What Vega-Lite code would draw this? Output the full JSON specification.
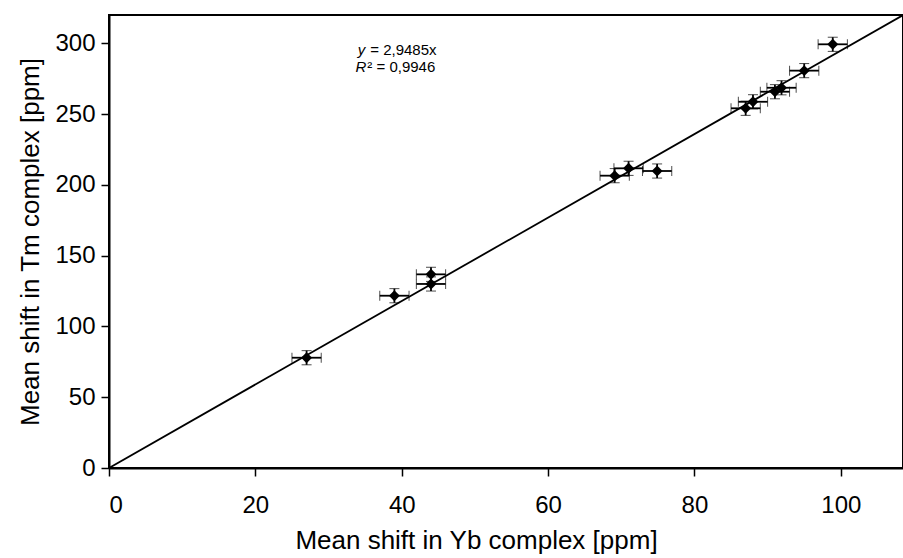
{
  "$schema": "https://vega.github.io/schema/vega-lite/v6.json",
  "width": 794,
  "height": 453,
  "autosize": {"type": "none"},
  "padding": {"left": 109, "top": 15, "right": 0, "bottom": 90},
  "background": "white",
  "config": {
    "font": "Liberation Sans",
    "view": {"stroke": "black", "strokeWidth": 2},
    "axis": {
      "grid": false,
      "domainColor": "black",
      "domainWidth": 2,
      "tickColor": "black",
      "tickWidth": 1.5,
      "tickSize": 8,
      "labelColor": "black",
      "titleColor": "black",
      "labelFont": "Liberation Sans",
      "titleFont": "Liberation Sans",
      "labelFontSize": 24,
      "titleFontSize": 26,
      "titleFontWeight": "normal"
    }
  },
  "datasets": {
    "points": [
      {"x": 27.0, "y": 77.9, "xerr": 2, "yerr": 5},
      {"x": 39.0, "y": 121.7, "xerr": 2, "yerr": 5},
      {"x": 44.0, "y": 136.8, "xerr": 2, "yerr": 5},
      {"x": 44.0, "y": 130.0, "xerr": 2, "yerr": 5},
      {"x": 69.1, "y": 206.5, "xerr": 2, "yerr": 5},
      {"x": 71.0, "y": 211.7, "xerr": 2, "yerr": 5},
      {"x": 74.9, "y": 209.8, "xerr": 2, "yerr": 5},
      {"x": 87.0, "y": 254.1, "xerr": 2, "yerr": 5},
      {"x": 88.0, "y": 258.7, "xerr": 2, "yerr": 5},
      {"x": 91.0, "y": 265.8, "xerr": 2, "yerr": 5},
      {"x": 91.9, "y": 268.6, "xerr": 2, "yerr": 5},
      {"x": 95.0, "y": 280.7, "xerr": 2, "yerr": 5},
      {"x": 98.9, "y": 299.3, "xerr": 2, "yerr": 5}
    ],
    "fit": [
      {"x": 0, "y": 0},
      {"x": 108.53, "y": 320}
    ]
  },
  "layer": [
    {
      "data": {"name": "fit"},
      "mark": {"type": "line", "color": "black", "strokeWidth": 1.8, "clip": true},
      "encoding": {
        "x": {"field": "x", "type": "quantitative", "scale": {"domain": [0, 108.5], "nice": false, "zero": true},
              "axis": {"values": [0, 20, 40, 60, 80, 100], "title": "Mean shift in Yb complex [ppm]", "labelPadding": 17, "titlePadding": 10, "titleX": 367}},
        "y": {"field": "y", "type": "quantitative", "scale": {"domain": [0, 320], "nice": false},
              "axis": {"values": [0, 50, 100, 150, 200, 250, 300], "title": "Mean shift in Tm complex [ppm]", "labelPadding": 6, "titlePadding": 11}}
      }
    },
    {
      "data": {"name": "points"},
      "mark": {"type": "errorbar", "ticks": {"size": 10, "color": "black", "strokeWidth": 1.8}, "rule": {"color": "black", "strokeWidth": 1.8}},
      "encoding": {
        "x": {"field": "x", "type": "quantitative", "title": "Mean shift in Yb complex [ppm]"},
        "xError": {"field": "xerr"},
        "y": {"field": "y", "type": "quantitative", "title": "Mean shift in Tm complex [ppm]"}
      }
    },
    {
      "data": {"name": "points"},
      "mark": {"type": "errorbar", "ticks": {"size": 10, "color": "black", "strokeWidth": 1.8}, "rule": {"color": "black", "strokeWidth": 1.8}},
      "encoding": {
        "y": {"field": "y", "type": "quantitative", "title": "Mean shift in Tm complex [ppm]"},
        "yError": {"field": "yerr"},
        "x": {"field": "x", "type": "quantitative", "title": "Mean shift in Yb complex [ppm]"}
      }
    },
    {
      "data": {"name": "points"},
      "mark": {"type": "point", "shape": "diamond", "filled": true, "color": "black", "size": 120, "opacity": 1},
      "encoding": {
        "x": {"field": "x", "type": "quantitative", "title": "Mean shift in Yb complex [ppm]"},
        "y": {"field": "y", "type": "quantitative", "title": "Mean shift in Tm complex [ppm]"}
      }
    },
    {
      "data": {"values": [{"x": 34.0, "y": 291.5, "t": "y"}, {"x": 33.7, "y": 279.6, "t": "R"}]},
      "mark": {"type": "text", "align": "left", "baseline": "alphabetic", "fontStyle": "italic", "fontSize": 15, "color": "black"},
      "encoding": {
        "x": {"field": "x", "type": "quantitative"},
        "y": {"field": "y", "type": "quantitative"},
        "text": {"field": "t"}
      }
    },
    {
      "data": {"values": [{"x": 35.7, "y": 291.5, "t": "= 2,9485x"}, {"x": 35.3, "y": 279.6, "t": "² = 0,9946"}]},
      "mark": {"type": "text", "align": "left", "baseline": "alphabetic", "fontSize": 15, "color": "black"},
      "encoding": {
        "x": {"field": "x", "type": "quantitative"},
        "y": {"field": "y", "type": "quantitative"},
        "text": {"field": "t"}
      }
    }
  ]
}
